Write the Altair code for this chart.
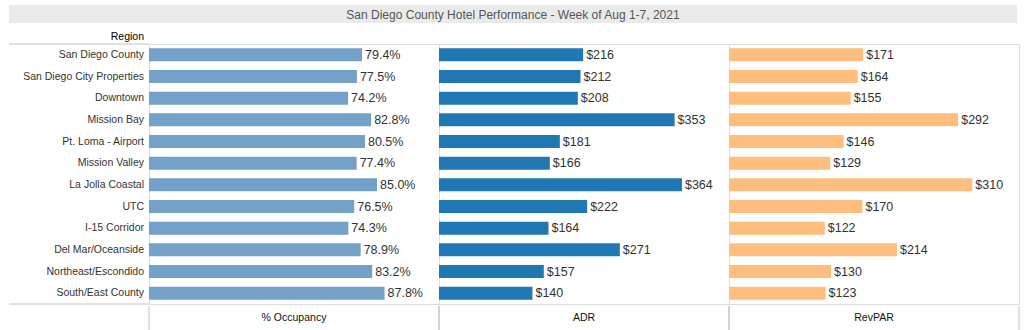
import altair as alt
import pandas as pd

regions = ["San Diego County", "San Diego City Properties", "Downtown", "Mission Bay",
           "Pt. Loma - Airport", "Mission Valley", "La Jolla Coastal", "UTC",
           "I-15 Corridor", "Del Mar/Oceanside", "Northeast/Escondido", "South/East County"]
occupancy = [79.4, 77.5, 74.2, 82.8, 80.5, 77.4, 85.0, 76.5, 74.3, 78.9, 83.2, 87.8]
adr = [216, 212, 208, 353, 181, 166, 364, 222, 164, 271, 157, 140]
revpar = [171, 164, 155, 292, 146, 129, 310, 170, 122, 214, 130, 123]
column_headers = ["% Occupancy", "ADR", "RevPAR"]
title_text = "San Diego County Hotel Performance - Week of Aug 1-7, 2021"
row_header = "Region"

df = pd.DataFrame({
    "Region": regions,
    "Occ": occupancy,
    "ADR": adr,
    "RevPAR": revpar,
    "OccLabel": [f"{v:.1f}%" for v in occupancy],
    "ADRLabel": [f"${v}" for v in adr],
    "RevLabel": [f"${v}" for v in revpar],
})

LINE = "#c4c4c4"
FONT = "Liberation Sans"
VFONT = "Liberation Sans Narrow, Arial Narrow, Liberation Sans"
PW, PH, LW = 290, 260, 140

y_enc = alt.Y("Region:N", sort=regions,
              scale=alt.Scale(domain=regions, paddingInner=0.4, paddingOuter=0.2),
              axis=None)


def panel(field, label, color, dmax):
    base = alt.Chart(df).encode(
        y=y_enc,
        x=alt.X(f"{field}:Q", scale=alt.Scale(domain=[0, dmax], nice=False, zero=True), axis=None),
    )
    bars = base.mark_bar(color=color)
    text = base.mark_text(align="left", baseline="middle", dx=3, font=VFONT,
                          fontSize=12.5, color="#333333").encode(text=f"{label}:N")
    return alt.layer(bars, text).properties(width=PW, height=PH)


one = pd.DataFrame({"t": [row_header], "title": [title_text]})

# Row label column
labels = alt.Chart(df).mark_text(align="right", baseline="middle", font=FONT,
                                 fontSize=10.5, color="#333333").encode(
    y=y_enc, x=alt.value(LW - 5), text="Region:N")
top_rule = alt.Chart(one).mark_rule(color=LINE).encode(
    x=alt.value(0), x2=alt.value(LW), y=alt.value(0))
bot_rule = alt.Chart(one).mark_rule(color=LINE).encode(
    x=alt.value(0), x2=alt.value(LW), y=alt.value(PH))
label_col = alt.layer(top_rule, bot_rule, labels).properties(
    width=LW, height=PH, view=alt.ViewBackground(stroke=None))

occ_panel = panel("Occ", "OccLabel", "#73a1c9", 108.1)
adr_panel = panel("ADR", "ADRLabel", "#1f77b4", 434.5)
rev_panel = panel("RevPAR", "RevLabel", "#ffbe7d", 369.5)

main_row = alt.hconcat(label_col, occ_panel, adr_panel, rev_panel, spacing=0, bounds="flush")

# Title strip
TW = LW + 3 * PW - 2
title_bg = alt.Chart(one).mark_rect(color="#eaeaea").encode(
    x=alt.value(0), x2=alt.value(TW), y=alt.value(0), y2=alt.value(18))
title_txt = alt.Chart(one).mark_text(align="center", baseline="middle", font=FONT,
                                     fontSize=12, color="#555555").encode(
    x=alt.value(TW / 2), y=alt.value(9.5), text="title:N")
region_txt = alt.Chart(one).mark_text(align="right", baseline="middle", font=FONT,
                                      fontSize=10.5, color="#000000").encode(
    x=alt.value(LW - 5), y=alt.value(32), text="t:N")
title_chart = alt.layer(title_bg, title_txt, region_txt).properties(
    width=TW, height=38, view=alt.ViewBackground(stroke=None))

# Footer headers
FH = 26
blank = alt.Chart(pd.DataFrame({"t": [""]})).mark_text().encode(text="t:N").properties(
    width=LW, height=FH, view=alt.ViewBackground(stroke=None))


def header(i):
    d = pd.DataFrame({"h": [column_headers[i]]})
    txt = alt.Chart(d).mark_text(align="center", baseline="middle", font=FONT,
                                 fontSize=10.5, color="#111111").encode(
        x=alt.value(PW / 2), y=alt.value(12), text="h:N")
    lrule = alt.Chart(d).mark_rule(color=LINE).encode(
        x=alt.value(0), y=alt.value(0), y2=alt.value(FH))
    rrule = alt.Chart(d).mark_rule(color=LINE).encode(
        x=alt.value(PW), y=alt.value(0), y2=alt.value(FH))
    return alt.layer(lrule, rrule, txt).properties(
        width=PW, height=FH, view=alt.ViewBackground(stroke=None))


footer_row = alt.hconcat(blank, header(0), header(1), header(2), spacing=0, bounds="flush")

chart = alt.vconcat(title_chart, main_row, footer_row, spacing=0).properties(
    padding={"left": 8, "top": 5, "right": 0, "bottom": 0}
).configure_view(stroke=LINE).configure(background="white")

chart.save("out.html", embed_options={"renderer": "svg", "actions": False})
